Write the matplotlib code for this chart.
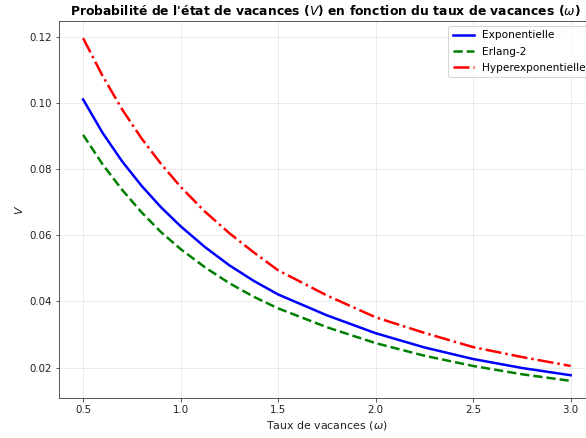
import matplotlib
matplotlib.use("Agg")
import matplotlib.pyplot as plt

omega = [0.5, 0.6, 0.7, 0.8, 0.9, 1.0, 1.125, 1.25, 1.375, 1.5, 1.75, 2.0, 2.25, 2.5, 2.75, 3.0]
v_exp = [0.1010, 0.0909, 0.0823, 0.0749, 0.0684, 0.0627, 0.0564, 0.0509, 0.0462, 0.0421,
         0.0358, 0.0304, 0.0261, 0.0226, 0.0199, 0.0177]
v_erl = [0.0903, 0.0814, 0.0737, 0.0669, 0.0609, 0.0558, 0.0503, 0.0455, 0.0414, 0.0379,
         0.0322, 0.0274, 0.0236, 0.0205, 0.0180, 0.0160]
v_hyp = [0.1195, 0.1081, 0.0980, 0.0892, 0.0815, 0.0746, 0.0671, 0.0606, 0.0548, 0.0494,
         0.0418, 0.0352, 0.0305, 0.0262, 0.0232, 0.0205]
labels = ["Exponentielle", "Erlang-2", "Hyperexponentielle"]
xticks = [0.5, 1.0, 1.5, 2.0, 2.5, 3.0]
yticks = [0.02, 0.04, 0.06, 0.08, 0.10, 0.12]

fig = plt.figure(figsize=(586 / 72, 438 / 72), dpi=72)
ax = fig.add_axes([0.1002, 0.0913, 0.9152, 0.8607])

ax.plot(omega, v_exp, color="blue", lw=2.5, ls="-", label=labels[0])
ax.plot(omega, v_erl, color="green", lw=2.5, ls="--", label=labels[1])
ax.plot(omega, v_hyp, color="red", lw=2.5, ls="-.", label=labels[2])

ax.set_xticks(xticks)
ax.set_yticks(yticks)
ax.grid(True, alpha=0.3)
for s in ax.spines.values():
    s.set_color("#333333")
ax.tick_params(colors="#333333", labelcolor="#222222", labelsize=10.3)
ax.set_xlabel("Taux de vacances ($\\omega$)", fontsize=11, color="#222222")
ax.set_ylabel("$V$", fontsize=11, color="#222222")
ax.set_title("Probabilité de l'état de vacances ($V$) en fonction du taux de vacances ($\\omega$)",
             fontsize=12.4, fontweight="bold", x=0.497)
ax.legend(loc="upper right", fontsize=10.5, labelspacing=0.6)

fig.savefig("out.png", dpi=72)
